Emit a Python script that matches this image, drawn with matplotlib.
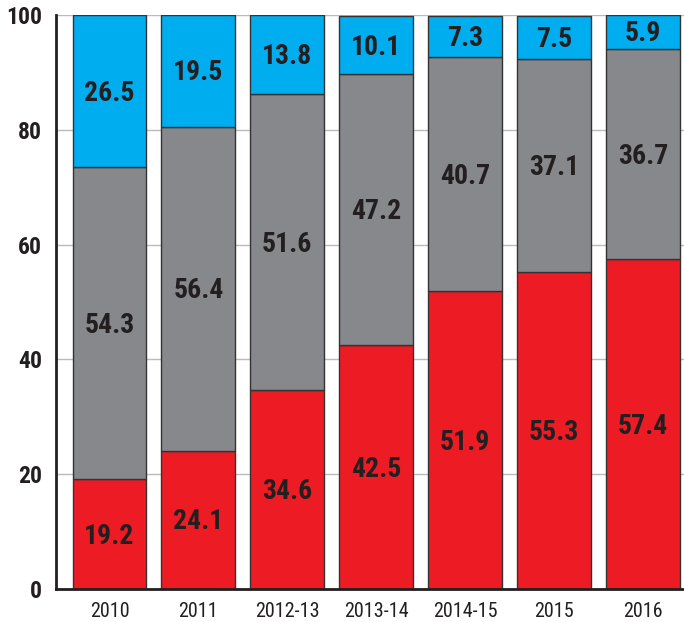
import matplotlib
matplotlib.use("Agg")
import matplotlib.pyplot as plt
import matplotlib.transforms as mtrans
import numpy as np

categories = ["2010", "2011", "2012-13", "2013-14", "2014-15", "2015", "2016"]
red_vals = [19.2, 24.1, 34.6, 42.5, 51.9, 55.3, 57.4]
gray_vals = [54.3, 56.4, 51.6, 47.2, 40.7, 37.1, 36.7]
blue_vals = [26.5, 19.5, 13.8, 10.1, 7.3, 7.5, 5.9]
yticks = [0, 20, 40, 60, 80, 100]

FONT = ["Roboto Condensed", "DejaVu Sans"]
TXT = "#231F20"

fig = plt.figure(figsize=(6.84, 6.22), dpi=100)
ax = fig.add_axes([0.082, 0.053, 0.918, 0.923])

x = np.arange(len(categories))
w = 0.83
red = np.array(red_vals)
gray = np.array(gray_vals)
blue = np.array(blue_vals)
ec = "#333333"
ax.bar(x, red, w, color="#ED1C24", edgecolor=ec, linewidth=1, zorder=3)
ax.bar(x, gray, w, bottom=red, color="#87888C", edgecolor=ec, linewidth=1, zorder=3)
ax.bar(x, blue, w, bottom=red + gray, color="#00AEEF", edgecolor=ec, linewidth=1, zorder=3)

tr = mtrans.offset_copy(ax.transData, fig=fig, x=0, y=-1.5, units="points")
for i in range(len(x)):
    for base, v in ((0, red[i]), (red[i], gray[i]), (red[i] + gray[i], blue[i])):
        ax.text(x[i], base + v / 2, f"{v:.1f}", ha="center", va="center", transform=tr,
                fontsize=20, fontweight="bold", family=FONT, color=TXT, zorder=4)

ax.set_xlim(-0.6, 6.46)
ax.set_ylim(0, 100)
ax.set_yticks(yticks)
ax.set_yticklabels([str(t) for t in yticks], fontsize=17, fontweight="bold", family=FONT, color=TXT)
ax.set_xticks(x)
ax.set_xticklabels(categories, fontsize=14.5, family=FONT, color=TXT)
ax.tick_params(axis="both", length=0)
ax.tick_params(axis="y", pad=10)
ax.tick_params(axis="x", pad=9)
ax.yaxis.grid(True, color="#BBBBBB", linewidth=1, zorder=0)
ax.set_axisbelow(True)
for s in ("top", "right"):
    ax.spines[s].set_visible(False)
for s in ("left", "bottom"):
    ax.spines[s].set_color("#231F20")
    ax.spines[s].set_linewidth(2)
    ax.spines[s].set_zorder(5)

fig.savefig("out.png", dpi=100)
